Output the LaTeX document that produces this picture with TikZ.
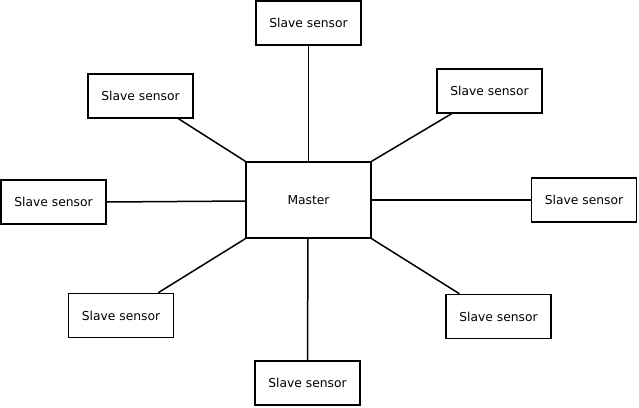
\documentclass[tikz,border=0pt]{standalone}
\usepackage{fontspec}
\setmainfont{DejaVu Sans}
\usetikzlibrary{calc}
\begin{document}
\begin{tikzpicture}[x=1pt,y=-1pt,
  box/.style={draw,line width=1.5pt,fill=white,inner sep=0pt,font=\fontsize{12.3}{14}\selectfont},
  slave/.style={box,minimum width=105pt,minimum height=44pt},
  link/.style={line width=1.5pt}]
\useasboundingbox (0,0) rectangle (639,407);
\node[box,minimum width=125pt,minimum height=76pt] (m) at (308.5,200) {Master};
\node[slave] (t) at (308.5,23) {Slave sensor};
\node[slave] (ul) at (140.5,96) {Slave sensor};
\node[slave] (ur) at (489.5,91) {Slave sensor};
\node[slave] (l) at (53.5,202) {Slave sensor};
\node[slave] (r) at (584,200) {Slave sensor};
\node[slave] (ll) at (121,315.5) {Slave sensor};
\node[slave] (lr) at (498.5,316.5) {Slave sensor};
\node[slave] (b) at (307.5,383) {Slave sensor};
\draw[link] (t.south) -- (m.north);
\draw[link] ($(ul.south west)!0.857!(ul.south east)$) -- (m.north west);
\draw[link] ($(ur.south west)!0.143!(ur.south east)$) -- (m.north east);
\draw[link] (l.east) -- ($(m.north west)!0.513!(m.south west)$);
\draw[link] (m.east) -- (r.west);
\draw[link] ($(ll.north west)!0.849!(ll.north east)$) -- (m.south west);
\draw[link] ($(lr.north west)!0.133!(lr.north east)$) -- (m.south east);
\draw[link] (b.north) -- ($(m.south west)!0.496!(m.south east)$);
\end{tikzpicture}
\end{document}
